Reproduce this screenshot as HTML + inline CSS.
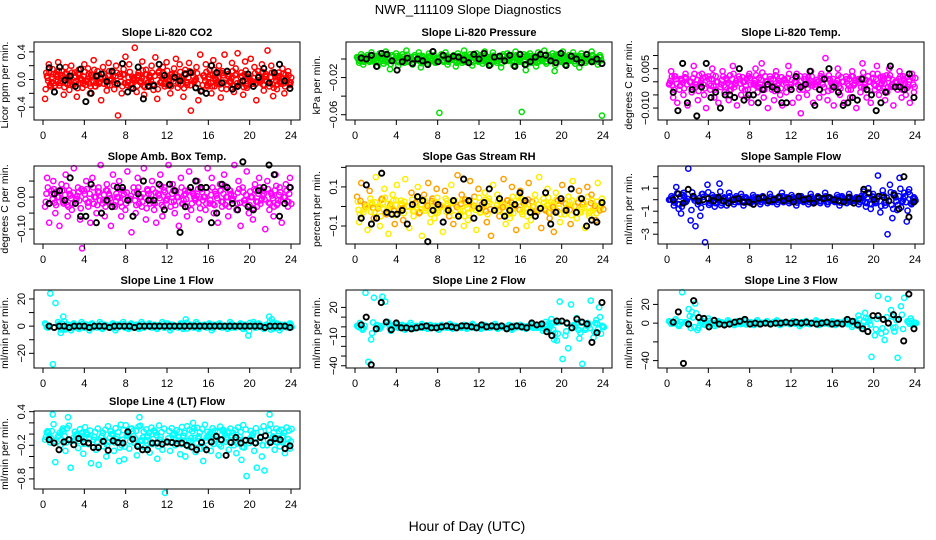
<!DOCTYPE html>
<html><head><meta charset="utf-8"><style>
body{margin:0;background:#fff}
svg{display:block;font-family:"Liberation Sans",sans-serif}
</style></head><body>
<svg id="c" width="936" height="540">
<text x="468" y="14" text-anchor="middle" font-size="13">NWR_111109  Slope Diagnostics</text>
<text x="467" y="531" text-anchor="middle" font-size="14">Hour of Day (UTC)</text>
</svg>
<script>
const co2Vals=[-28,5,22,-10,15,-18,8,25,-5,12,-22,18,3,-15,20,-8,10,-25,14,2,-12,22,-3,16,-20,6,28,-10,12,-6,-30,18,4,-16,24,-2,10,-14,20,-52,8,-20,15,33,-8,22,-12,2,46,-18,10,-4,26,-22,14,-9,6,20,-15,32,-28,12,-5,18,-10,25,-3,-20,8,16,30,-12,22,4,-25,14,-8,24,-45,10,-2,18,-30,36,-16,6,22,-10,14,-20,28,2,-6,20,-26,12,36,-14,8,-4,24,-18,16,38,-8,10,-22,26,-12,4,30,-6,18,-30,12,-2,22,-16,8,42,-10,20,-24,6,-14,10,-6,16,-20,2,12,-8];
const co2Blk=[17,-18,18,-1,5,-10,15,-32,-20,5,8,-3,12,-6,23,-18,-13,18,-28,-10,-9,22,6,-8,3,-2,8,10,-12,-17,-20,20,10,-5,12,-14,-10,-2,8,-10,3,16,-5,10,22,-2,-13];
const presVals=[2,-4,5,-6,1,4,-3,7,-1,3,-8,6,0,-5,8,2,-11,4,-2,6,-7,1,5,-4,9,-3,2,-6,4,-1,7,-9,3,0,-5,6,-2,8,-4,1,-58,5,-3,7,-6,2,-1,4,-8,6,0,-4,9,3,-2,5,-7,1,6,-3,4,-5,8,-1,2,-6,7,0,-4,3,-9,5,-2,6,-1,4,-7,8,2,-3,-57,5,-12,1,6,-4,3,-8,7,0,-2,9,-5,4,-1,6,-13,2,5,-3,8,-6,1,4,-2,7,-5,3,-9,6,0,-4,5,-1,8,-3,2,-6,4,-61];
const presBlk=[1,0,4,-8,6,5,-2,-12,-3,1,-5,0,-2,-6,8,-3,4,0,3,2,-1,-4,5,0,6,-7,2,3,-2,4,-8,5,-6,-3,2,5,4,-2,-4,6,-7,3,0,-4,5,-3,0,-5];
const tempVals=[-1,4,-6,2,-8,-3,1,-5,3,-9,0,-4,6,-2,-7,-1,3,-5,-10,2,-3,5,-6,0,-8,-2,4,-4,1,-7,-3,6,-1,-9,2,-5,0,-3,-6,3,-8,-1,5,-4,-2,7,-6,0,-10,2,-3,-7,4,-1,-5,-9,1,-4,6,-2,-8,0,3,-6,-12,-3,2,-5,-1,4,-8,-2,0,-6,3,-4,9,-7,1,-3,-9,-1,5,-5,0,-8,2,-3,-6,4,-1,-10,1,-4,7,-2,-6,0,-8,3,-3,6,-5,-1,2,-7,-4,5,-2,-9,0,-3,4,-6,1,-5,-2,-8,3,-4];
const tempBlk=[-4,-11,7,-8,-3,-13,-2,7,-6,-4,-10,-5,-5,-6,5,-7,-5,-5,-8,-3,-1,-2,-3,-8,-8,-3,2,-2,-1,4,-9,-3,1,5,-2,-4,-9,-8,-6,-7,1,-3,-5,-11,-8,-4,6,-2,-2,-3,3,-6];
const boxVals=[-3,6,-8,2,5,-5,0,-9,4,-2,7,-6,1,-4,9,-1,3,-7,-16,2,5,-3,-8,6,0,-5,3,10,-2,-6,4,1,-9,7,-3,0,5,-6,2,-4,8,-1,-11,3,-5,6,0,-3,9,-7,2,-2,5,-4,-8,1,7,-6,3,-1,10,-3,4,-5,0,-9,6,-2,2,-6,8,-4,1,-1,5,-7,3,0,-4,9,-2,6,-5,1,-8,4,-3,7,0,-6,2,-1,10,-4,5,-9,3,-2,8,-5,0,-7,4,-3,6,-1,2,-10,5,-4,1,-6,7,-2,3,-8,0,4,-3,6];
const boxBlk=[-2,1,2,-1,6,-2,-6,-6,4,-8,-5,-1,-3,3,3,-1,-6,1,5,-1,-1,4,-4,4,2,-11,-3,3,5,3,3,-8,-5,4,3,-2,-4,11,-3,-4,2,3,10,7,-6,-2,3];
const rhVals=[5,-8,12,-3,0,-12,8,2,-6,15,-1,-10,4,9,-4,-14,1,6,-9,11,-2,3,-7,14,0,-11,7,-5,2,10,-3,-15,6,-1,12,-8,4,-6,9,-2,0,-13,8,3,-5,11,-9,1,16,-4,6,-10,2,-7,13,-1,5,-12,9,-3,0,7,-8,4,-15,11,-2,6,-5,1,14,-9,3,-6,10,-1,-12,5,8,-4,2,-10,12,-7,0,6,-3,15,-11,4,-2,9,-6,1,-13,7,3,-8,11,-4,-1,5,-9,13,0,-6,8,-3,2,-11,10,-5,6,-1,-7,12,-2,4];
const rhBlk=[-6,11,-9,-6,17,-3,-4,-4,-2,-9,1,5,3,-18,-2,1,-8,-2,3,-5,14,3,-6,-1,2,9,-2,4,-5,-2,1,7,3,-3,-5,-1,7,-9,-3,4,-2,9,-3,4,-10,-7,-8,2];
const sampVals=[0,0.3,-0.5,1.1,-0.8,-1.2,0.6,-0.2,2.7,-1.8,0.2,-2.3,-0.4,-1.4,0.5,-3.7,1.3,-0.3,0.4,-0.6,0.1,1.4,-0.3,0.2,-0.5,0.6,0,-0.4,0.3,-0.2,0.5,-0.5,0.2,0,-0.3,0.4,-0.1,0.2,-0.4,0.3,0,-0.3,0.5,-0.2,0.1,-0.4,0.3,0.6,-0.1,0.2,-0.3,0.4,0,-0.5,0.2,0.3,-0.2,0.1,-0.4,0.5,0,-0.2,0.3,-0.3,0.1,0.6,-0.4,0.2,0,-0.2,0.4,-0.5,0.3,0.1,-0.3,0.5,0,-0.1,0.2,-0.4,0.3,0.7,-0.6,1.0,-0.8,0.5,-0.3,2.1,-1.1,0.8,-0.5,-3.0,1.3,-1.6,0.4,-0.9,1.9,-0.2,0.6,-1.9,0.9,-0.4,0.2];
const sampBlk=[0,0.5,-0.3,0.9,0.3,-0.1,0,0.1,-0.1,0.2,-0.1,-0.3,0,0.1,-0.2,-0.2,-0.4,0.1,0.2,-0.1,0,0.2,-0.1,0.1,-0.2,0.3,0,0.1,-0.3,0.2,0.1,0.2,0,-0.1,-0.2,0.2,-0.3,0.1,0.9,0.6,0,0.3,0.2,-0.1,0.4,-0.8,2,-1.5,-0.2];
const l1Vals=[2,-1,24,-28,17,3,-5,7,-2,1,-3,2,0,-2,3,-1,1,-3,2,0,-1,3,-2,1,0,-1,2,-3,1,0,3,-1,-2,2,0,1,-2,3,-1,0,2,-1,1,-2,0,3,-1,2,-3,1,0,-1,2,-2,5,0,1,-1,3,-2,0,1,-1,2,-3,0,1,2,-1,0,-2,3,1,-1,0,2,-2,1,-7,0,3,-1,2,0,-2,1,7,5,-1,2,-3,0,1,-1,2];
const l1Blk=[0,-1,0,0,-1,0,0,0,-1,0,0,0,-1,0,0,0,0,-1,0,0,0,0,0,0,0,0,0,0,0,0,0,0,0,0,0,0,0,0,0,0,0,0,0,-1,0,0,0,0,-1];
const l2Vals=[1,4,-3,35,-36,-13,30,2,-2,31,26,5,-4,1,3,-1,2,-3,0,4,-2,1,-1,3,0,-2,2,-1,1,-3,2,0,-1,3,-2,1,0,-1,2,-2,1,3,-1,0,-2,2,1,-1,0,3,-2,1,0,-1,2,-3,1,0,2,-1,-2,1,3,0,-1,2,-4,5,-3,8,-13,-14,26,-33,-9,-22,23,2,9,-12,-38,-3,4,27,-11,7,20,1];
const l2Blk=[2,10,-39,-2,25,5,-3,4,-1,-1,-2,-1,0,1,-1,-1,0,1,0,-1,1,1,0,-1,2,0,1,0,1,-2,0,1,0,-1,4,2,3,-5,-9,6,6,4,-1,8,5,3,-16,-6,25];
const l3Vals=[2,0,4,-3,33,1,15,12,21,-5,3,-2,5,0,-3,2,1,-1,3,0,-2,2,-1,4,0,1,-2,3,-1,0,2,-1,1,3,-2,0,1,-1,2,0,-3,1,2,-1,0,3,-2,1,0,-1,2,-2,1,0,3,-1,-4,2,8,-6,11,5,-36,-13,29,-11,-18,26,14,-9,-37,18,27,2,5,0];
const l3Blk=[1,12,-43,-1,24,6,5,-4,3,-1,-2,-1,1,2,4,-1,0,-1,0,-1,0,0,1,0,1,0,1,0,-1,0,1,-1,0,-1,4,2,-2,-6,-9,8,8,4,0,9,4,-19,31,-6];
const l4Vals=[-10,5,-15,35,-50,-5,-20,10,-30,30,-60,-12,-2,-25,-8,-35,3,-18,-52,-10,-28,-55,-6,-22,-40,-14,0,-30,-9,-48,-20,-45,-3,-26,10,-16,-38,30,-12,-24,-5,-33,-18,5,-44,-10,-28,-105,-15,-30,-2,-20,-12,-36,-6,-40,-22,-14,20,-32,-8,-26,-48,-12,-4,-30,-18,-10,-38,-22,5,-14,-28,-6,-20,-34,-10,-46,-24,-75,-16,-4,-30,-60,-12,-40,-65,-20,35,-8,-28,-15,-22,-6,-34,-18,-26];
const l4Blk=[-10,-16,-28,-14,-10,-19,-8,-14,-16,-24,-24,-13,-29,-12,-15,-16,4,-9,-22,-28,-28,-16,-16,-18,-14,-15,-17,-16,-20,-23,-28,-15,-28,-14,-4,-10,-38,-15,-6,-16,-11,-12,-16,-6,-3,-15,-8,-10,-26,-21];
const hourTicks=[0,4,8,12,16,20,24];

const panels=[
 {name:'li820-co2',title:'Slope Li-820 CO2',yl:'Licor ppm per min.',col:0,row:0,vals:co2Vals,blk:co2Blk,mult:0.01,ylim:[-0.586,0.543],ticks:[0.4,0.2,0,-0.2,-0.4],labels:['0.4','','0.0','','\u22120.4'],color:'#ff0000'},
 {name:'li820-pressure',title:'Slope Li-820 Pressure',yl:'kPa per min.',col:1,row:0,vals:presVals,blk:presBlk,mult:0.001,ylim:[-0.0657,0.0183],ticks:[0,-0.02,-0.04,-0.06],labels:['','\u22120.02','','\u22120.06'],color:'#00e000'},
 {name:'li820-temp',title:'Slope Li-820 Temp.',yl:'degrees C per min.',col:2,row:0,vals:tempVals,blk:tempBlk,mult:0.001,ylim:[-0.01455,0.01515],ticks:[0.01,0.005,0,-0.005,-0.01],labels:['','0.005','','','\u22120.010'],color:'#ff00ff'},
 {name:'amb-box-temp',title:'Slope Amb. Box Temp.',yl:'degrees C per min.',col:0,row:1,vals:boxVals,blk:boxBlk,mult:0.01,ylim:[-0.1465,0.097],ticks:[0.05,0,-0.05,-0.1],labels:['','0.00','','\u22120.10'],color:'#ff00ff'},
 {name:'gas-stream-rh',title:'Slope Gas Stream RH',yl:'percent per min.',col:1,row:1,vals:rhVals,blk:rhBlk,mult:0.01,ylim:[-0.192,0.207],ticks:[0.2,0.1,0,-0.1],labels:['','0.1','','\u22120.1'],color:'#ffa000',color2:'#ffee00'},
 {name:'sample-flow',title:'Slope Sample Flow',yl:'ml/min per min.',col:2,row:1,vals:sampVals,blk:sampBlk,mult:1,ylim:[-3.85,2.93],ticks:[2,1,0,-1,-2,-3],labels:['','1','','\u22121','','\u22123'],color:'#0000ff'},
 {name:'line1-flow',title:'Slope Line 1 Flow',yl:'ml/min per min.',col:0,row:2,vals:l1Vals,blk:l1Blk,mult:1,ylim:[-30.8,26.6],ticks:[20,10,0,-10,-20],labels:['20','','0','','\u221220'],color:'#00ffff'},
 {name:'line2-flow',title:'Slope Line 2 Flow',yl:'ml/min per min.',col:1,row:2,vals:l2Vals,blk:l2Blk,mult:1,ylim:[-42.3,37.9],ticks:[20,10,0,-10,-20,-30,-40],labels:['20','','','\u221210','','','\u221240'],color:'#00ffff'},
 {name:'line3-flow',title:'Slope Line 3 Flow',yl:'ml/min per min.',col:2,row:2,vals:l3Vals,blk:l3Blk,mult:1,ylim:[-47.9,35.4],ticks:[20,0,-20,-40],labels:['20','0','','\u221240'],color:'#00ffff'},
 {name:'line4-lt-flow',title:'Slope Line 4 (LT) Flow',yl:'ml/min per min.',col:0,row:3,vals:l4Vals,blk:l4Blk,mult:0.01,ylim:[-0.98,0.412],ticks:[0.4,0.2,0,-0.2,-0.4,-0.6,-0.8],labels:['0.4','','','\u22120.2','','','\u22120.8'],color:'#00ffff'}
];
const NS='http://www.w3.org/2000/svg';
const svg=document.getElementById('c');
function mk(tag,attrs,parent){const e=document.createElementNS(NS,tag);for(const k in attrs)e.setAttribute(k,attrs[k]);(parent||svg).appendChild(e);return e;}
const colX=[34,346,658],rowY=[42,166,290,411],W=266,H=78;
panels.forEach(p=>{
 const L=colX[p.col],T=rowY[p.row],R=L+W,B=T+H;
 const xs=h=>L+9+h*(W-18)/24;
 const ys=v=>T+(p.ylim[1]-v)*H/(p.ylim[1]-p.ylim[0]);
 const lim=0.5*Math.max(Math.abs(p.ylim[0]),Math.abs(p.ylim[1]));
 const g=mk('g',{});
 
 
 const t=mk('text',{x:(L+R)/2,y:T-6,'text-anchor':'middle','font-size':11,'font-weight':'bold'},g);
 t.textContent=p.title;
 
 
 const pts=mk('g',{fill:'none','stroke-width':1.5},g);
 
 
 const n=p.vals.length;
 const step=23.7/(n-1);
 p.vals.forEach((v,i)=>{
  const h=0.2+i*step;
  const val=v*p.mult;
  const c=mk('circle',{cx:xs(h),cy:ys(val),r:2.6,stroke:(p.color2&&i%2)?p.color2:p.color},pts);
  
  
  if(Math.abs(val)<=lim){
   const c2=mk('circle',{cx:xs(h+step*0.33),cy:ys(val*0.5),r:2.6,stroke:p.color2||p.color},pts);
   
   
   const c3=mk('circle',{cx:xs(h+step*0.66),cy:ys(-val*0.35),r:2.6,stroke:(p.color2&&i%2)?p.color:(p.color2||p.color)},pts);
   
   
  }
 });
 const bk=mk('g',{fill:'none',stroke:'#000','stroke-width':1.9},g);
 
 
 const m=p.blk.length;
 p.blk.forEach((v,i)=>{
  const h=0.6+i*23.3/(m-1);
  const c=mk('circle',{cx:xs(h),cy:ys(v*p.mult),r:2.6},bk);
  
  
 });
 const box=mk('rect',{x:L,y:T,width:W,height:H,fill:'none',stroke:'#000','stroke-width':1},g);
 
 
 mk('line',{x1:xs(0),x2:xs(24),y1:B,y2:B,stroke:'#000'},g);
 hourTicks.forEach(h=>{
  mk('line',{x1:xs(h),x2:xs(h),y1:B,y2:B+5,stroke:'#000'},g);
  const tl=mk('text',{x:xs(h),y:B+19,'text-anchor':'middle','font-size':11},g);
  tl.textContent=h;
  
  
 });
 const yt=p.ticks;
 mk('line',{x1:L,x2:L,y1:ys(yt[0]),y2:ys(yt[yt.length-1]),stroke:'#000'},g);
 yt.forEach((v,i)=>{
  const y=ys(v);
  mk('line',{x1:L-5,x2:L,y1:y,y2:y,stroke:'#000'},g);
  if(p.labels[i]){
   const tl=mk('text',{x:L-9,y:y,'text-anchor':'middle','font-size':11,transform:`rotate(-90 ${L-9} ${y})`},g);
   tl.textContent=p.labels[i];
   
   
  }
 });
 const yl=mk('text',{x:L-26,y:(T+B)/2+4,'text-anchor':'middle','font-size':10.5,transform:`rotate(-90 ${L-26} ${(T+B)/2+4})`},g);
 yl.textContent=p.yl;
 
 
});
</script>
</body></html>
